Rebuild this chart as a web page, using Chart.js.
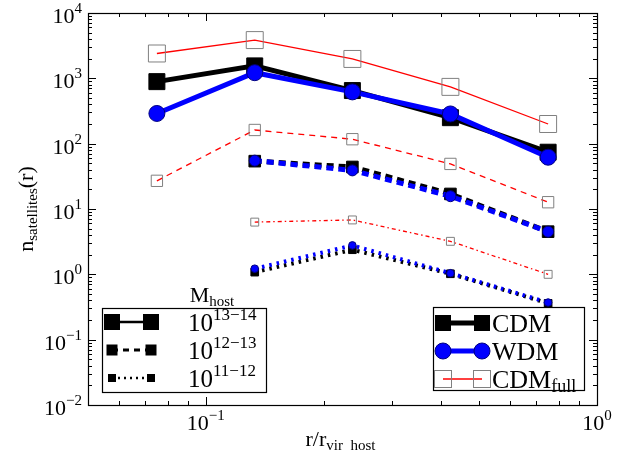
<!DOCTYPE html>
<html>
<head>
<meta charset="utf-8">
<script src="https://cdn.jsdelivr.net/npm/chart.js@4"></script>
<style>
    html, body { margin: 0; padding: 0; background: #fff; }
    #wrap { width: 632px; height: 462px; }
</style>
</head>
<body>
<div id="wrap"><canvas id="myChart"></canvas></div>
<script>
// radial bins (r / r_vir host)
var rBins = [0.075, 0.1334, 0.237, 0.422, 0.75];

// M_host 10^13-14
var cdmHigh = [890, 1550, 650, 250, 74];
var wdmHigh = [290, 1220, 620, 285, 62];
var fullHigh = [2400, 3850, 1980, 740, 200];
// M_host 10^12-13
var cdmMid = [null, 54, 44, 17, 4.5];
var wdmMid = [null, 55, 39, 15.7, 4.5];
var fullMid = [27, 162, 117, 49, 12.7];
// M_host 10^11-12
var cdmLow = [null, 1.08, 2.38, 1.02, 0.36];
var wdmLow = [null, 1.22, 2.77, 1.04, 0.37];
var fullLow = [null, 6.3, 6.8, 3.2, 1.0];

var yDecades = [-2, -1, 0, 1, 2, 3, 4];
var xDecades = [-1, 0];

var SERIF = "'Liberation Serif', 'DejaVu Serif', serif";

function pts(arr) {
    var out = [];
    for (var i = 0; i < arr.length; i++) {
        if (arr[i] !== null) out.push({ x: rBins[i], y: arr[i] });
    }
    return out;
}

function ds(label, arr, color, width, dash, style, radius, fill, edge) {
    return {
        label: label,
        data: pts(arr),
        borderColor: color,
        borderWidth: width,
        borderDash: dash,
        pointStyle: style,
        pointRadius: radius,
        pointHoverRadius: radius,
        pointBackgroundColor: fill,
        pointBorderColor: edge,
        pointBorderWidth: 1,
        fill: false,
        tension: 0,
        clip: false
    };
}

// first dataset is drawn on top
var datasets = [
    ds('CDMfull 13-14', fullHigh, '#ff0000', 1.3, [], 'rect', 12, 'rgba(0,0,0,0)', '#808080'),
    ds('CDMfull 12-13', fullMid, '#ff0000', 1.3, [6, 5], 'rect', 8, 'rgba(0,0,0,0)', '#808080'),
    ds('CDMfull 11-12', fullLow, '#ff0000', 1.3, [4, 3, 1.5, 3], 'rect', 5.6, 'rgba(0,0,0,0)', '#808080'),
    ds('WDM 13-14', wdmHigh, '#0000ff', 5, [], 'circle', 8, '#0000ff', '#000080'),
    ds('WDM 12-13', wdmMid, '#0000ff', 5, [7, 5], 'circle', 5.5, '#0000ff', '#000080'),
    ds('WDM 11-12', wdmLow, '#0000ff', 4, [2.5, 5], 'circle', 3.8, '#0000ff', '#000080'),
    ds('CDM 13-14', cdmHigh, '#000000', 5, [], 'rect', 11.3, '#000000', '#000000'),
    ds('CDM 12-13', cdmMid, '#000000', 5, [7, 5], 'rect', 8.2, '#000000', '#000000'),
    ds('CDM 11-12', cdmLow, '#000000', 4, [2.5, 5], 'rect', 5.4, '#000000', '#000000')
];

function drawPow(ctx, exp, x, y, align, big, small, rise) {
    ctx.font = big + 'px ' + SERIF;
    var w1 = ctx.measureText('10').width;
    ctx.font = small + 'px ' + SERIF;
    var w2 = ctx.measureText(exp).width;
    var x0 = x;
    if (align === 'right') x0 = x - w1 - w2;
    if (align === 'center') x0 = x - (w1 + w2) / 2;
    ctx.textAlign = 'left';
    ctx.textBaseline = 'alphabetic';
    ctx.font = big + 'px ' + SERIF;
    ctx.fillText('10', x0, y);
    ctx.font = small + 'px ' + SERIF;
    ctx.fillText(exp, x0 + w1, y - rise);
}

function expText(n) {
    return n < 0 ? '\u2212' + (-n) : '' + n;
}

function square(ctx, x, y, s, fill, stroke) {
    if (fill) { ctx.fillStyle = fill; ctx.fillRect(x - s / 2, y - s / 2, s, s); }
    if (stroke) { ctx.strokeStyle = stroke; ctx.lineWidth = 1; ctx.strokeRect(x - s / 2, y - s / 2, s, s); }
}

function handleLine(ctx, x1, x2, y, color, width, dash) {
    ctx.save();
    ctx.strokeStyle = color;
    ctx.lineWidth = width;
    ctx.setLineDash(dash);
    ctx.beginPath();
    ctx.moveTo(x1, y);
    ctx.lineTo(x2, y);
    ctx.stroke();
    ctx.restore();
}

var decorPlugin = {
    id: 'decor',
    afterDraw: function (chart) {
        var ctx = chart.ctx;
        var a = chart.chartArea;
        var xs = chart.scales.x, ys = chart.scales.y;
        ctx.save();

        // ticks, inward on all four sides
        ctx.strokeStyle = '#000';
        ctx.lineWidth = 1;
        ctx.beginPath();
        var d, m, p, len;
        for (d = -2; d <= 4; d++) {
            for (m = 1; m <= 9; m++) {
                if (d === 4 && m > 1) break;
                p = Math.round(ys.getPixelForValue(m * Math.pow(10, d))) + 0.5;
                len = m === 1 ? 8 : 4;
                ctx.moveTo(a.left, p); ctx.lineTo(a.left + len, p);
                ctx.moveTo(a.right, p); ctx.lineTo(a.right - len, p);
            }
        }
        for (d = -2; d <= 0; d++) {
            for (m = 1; m <= 9; m++) {
                var v = m * Math.pow(10, d);
                if (v < 0.05 - 1e-9 || v > 1 + 1e-9) continue;
                p = Math.round(xs.getPixelForValue(v)) + 0.5;
                len = m === 1 ? 8 : 4;
                ctx.moveTo(p, a.bottom); ctx.lineTo(p, a.bottom - len);
                ctx.moveTo(p, a.top); ctx.lineTo(p, a.top + len);
            }
        }
        ctx.stroke();

        // frame
        ctx.lineWidth = 1.2;
        ctx.strokeRect(a.left + 0.5, a.top + 0.5, a.right - a.left, a.bottom - a.top);

        // tick labels
        ctx.fillStyle = '#000';
        yDecades.forEach(function (e) {
            var py = ys.getPixelForValue(Math.pow(10, e));
            drawPow(ctx, expText(e), a.left - 6, py + 10, 'right', 22, 15, 10);
        });
        xDecades.forEach(function (e) {
            var px = xs.getPixelForValue(Math.pow(10, e));
            drawPow(ctx, expText(e), px, a.bottom + 25, 'center', 22, 15, 10);
        });

        // x title  r/r_vir host
        ctx.font = '22px ' + SERIF;
        var t1 = 'r/r';
        var w1 = ctx.measureText(t1).width;
        ctx.font = '15px ' + SERIF;
        var t2 = 'vir  host';
        var w2 = ctx.measureText(t2).width;
        var cx = (a.left + a.right) / 2 - 2;
        var x0 = cx - (w1 + w2) / 2;
        ctx.textAlign = 'left';
        ctx.font = '22px ' + SERIF;
        ctx.fillText(t1, x0, 446);
        ctx.font = '15px ' + SERIF;
        ctx.fillText(t2, x0 + w1, 450);

        // y title  n_satellites(r)
        ctx.save();
        ctx.translate(33, (a.top + a.bottom) / 2);
        ctx.rotate(-Math.PI / 2);
        ctx.font = '22px ' + SERIF;
        var u1 = 'n', u3 = '(r)';
        var uw1 = ctx.measureText(u1).width, uw3 = ctx.measureText(u3).width;
        ctx.font = '15px ' + SERIF;
        var u2 = 'satellites';
        var uw2 = ctx.measureText(u2).width;
        var ux = -(uw1 + uw2 + uw3) / 2;
        ctx.font = '22px ' + SERIF;
        ctx.fillText(u1, ux, 0);
        ctx.font = '15px ' + SERIF;
        ctx.fillText(u2, ux + uw1, 4);
        ctx.font = '22px ' + SERIF;
        ctx.fillText(u3, ux + uw1 + uw2, 0);
        ctx.restore();

        // left legend: host mass
        ctx.font = '22px ' + SERIF;
        var mw = ctx.measureText('M').width;
        ctx.font = '15px ' + SERIF;
        var hw = ctx.measureText('host').width;
        var mx = 212 - (mw + hw) / 2;
        ctx.font = '22px ' + SERIF;
        ctx.fillText('M', mx, 302);
        ctx.font = '15px ' + SERIF;
        ctx.fillText('host', mx + mw, 306);

        ctx.fillStyle = '#fff';
        ctx.fillRect(102, 308, 164, 84);
        ctx.strokeStyle = '#000';
        ctx.lineWidth = 1.2;
        ctx.strokeRect(102.5, 308.5, 164, 84);

        var rowsL = [
            { y: 322, s: 16, w: 2.5, dash: [], e: '13\u221214' },
            { y: 350, s: 11, w: 3, dash: [6, 5], e: '12\u221213' },
            { y: 378, s: 8, w: 2.5, dash: [2, 4], e: '11\u221212' }
        ];
        rowsL.forEach(function (r) {
            handleLine(ctx, 112, 151, r.y, '#000', r.w, r.dash);
            square(ctx, 112, r.y, r.s, '#000', null);
            square(ctx, 151, r.y, r.s, '#000', null);
            ctx.fillStyle = '#000';
            drawPow(ctx, r.e, 188, r.y + 9, 'left', 25, 17, 11);
        });

        // right legend: models
        ctx.fillStyle = '#fff';
        ctx.fillRect(433, 307, 151, 83);
        ctx.strokeRect(433.5, 307.5, 151, 83);
        var hx1 = 443, hx2 = 482;
        handleLine(ctx, hx1, hx2, 323, '#000', 5, []);
        square(ctx, hx1, 323, 16, '#000', null);
        square(ctx, hx2, 323, 16, '#000', null);
        handleLine(ctx, hx1, hx2, 351, '#0000ff', 5, []);
        ctx.fillStyle = '#0000ff';
        ctx.strokeStyle = '#000080';
        ctx.lineWidth = 1;
        [hx1, hx2].forEach(function (hx) {
            ctx.beginPath(); ctx.arc(hx, 351, 8, 0, Math.PI * 2); ctx.fill(); ctx.stroke();
        });
        handleLine(ctx, hx1, hx2, 379, '#ff0000', 1.3, []);
        square(ctx, hx1, 379, 17, null, '#808080');
        square(ctx, hx2, 379, 17, null, '#808080');

        ctx.fillStyle = '#000';
        ctx.textAlign = 'left';
        ctx.font = '26px ' + SERIF;
        ctx.fillText('CDM', 492, 332);
        ctx.fillText('WDM', 492, 360);
        ctx.fillText('CDM', 492, 388);
        var cw = ctx.measureText('CDM').width;
        ctx.font = '18px ' + SERIF;
        ctx.fillText('full', 492 + cw, 392);

        ctx.restore();
    }
};

var config = {
    type: 'line',
    data: { datasets: datasets },
    options: {
        responsive: false,
        animation: false,
        devicePixelRatio: 1,
        layout: { padding: { left: 88, top: 12, right: 35, bottom: 57 } },
        plugins: {
            legend: { display: false },
            tooltip: { enabled: false },
            title: { display: false }
        },
        scales: {
            x: { type: 'logarithmic', min: 0.05, max: 1, display: false },
            y: { type: 'logarithmic', min: 0.01, max: 10000, display: false }
        }
    },
    plugins: [decorPlugin]
};

var canvas = document.getElementById('myChart');
canvas.width = 632;
canvas.height = 462;
var myChart = new Chart(canvas, config);
</script>
</body>
</html>
